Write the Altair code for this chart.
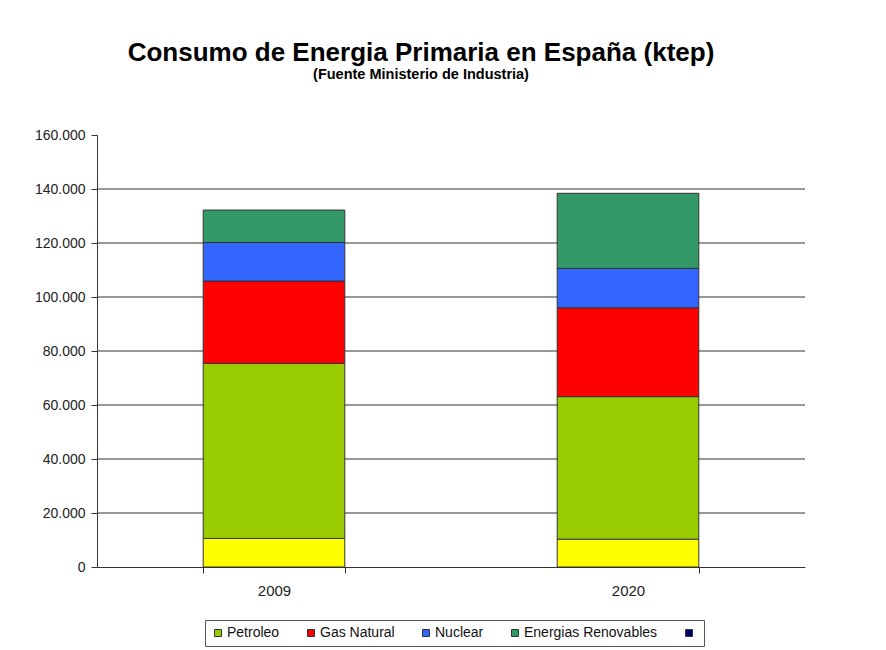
import altair as alt
import pandas as pd

years = ["2009", "2020"]
series = ["Carbón", "Petroleo", "Gas Natural", "Nuclear", "Energias Renovables", "Saldo"]
colors = ["#FFFF00", "#99CC00", "#FF0000", "#3366FF", "#339966", "#000066"]
carbon = [10600, 10300]
petroleo = [64800, 52800]
gas_natural = [30500, 32900]
nuclear = [14300, 14600]
renovables = [12000, 27800]
y_ticks = [0, 20000, 40000, 60000, 80000, 100000, 120000, 140000, 160000]
grid_values = [20000, 40000, 60000, 80000, 100000, 120000, 140000]

values = [carbon, petroleo, gas_natural, nuclear, renovables]
rows = []
for si, vals in enumerate(values):
    for yi, yr in enumerate(years):
        rows.append({"Año": yr, "Fuente": series[si], "ktep": vals[yi], "orden": si})
df = pd.DataFrame(rows)
grid_df = pd.DataFrame({"v": grid_values})

FONT = "Liberation Sans"

y_axis = alt.Axis(
    values=y_ticks, grid=False, labelFont=FONT, labelFontSize=14,
    labelColor="#222222", tickSize=6, tickColor="#333333", domainColor="#333333",
    labelPadding=6,
    labelExpr="replace(format(datum.value, ','), ',', '.')",
)

grid = alt.Chart(grid_df).mark_rule(color="#333333", strokeWidth=1).encode(
    y=alt.Y("v:Q", title=None, scale=alt.Scale(domain=[0, 160000], nice=False), axis=y_axis)
)

bars = alt.Chart(df).mark_bar(stroke="#333333", strokeWidth=1, opacity=1).encode(
    x=alt.X(
        "Año:N",
        title=None,
        sort=years,
        scale=alt.Scale(paddingInner=0.6, paddingOuter=0.3),
        axis=alt.Axis(
            labelAngle=0, labelFont=FONT, labelFontSize=15, labelColor="#222222",
            tickBand="extent", tickSize=6, tickColor="#333333", domainColor="#333333",
            labelPadding=10, grid=False,
        ),
    ),
    y=alt.Y(
        "ktep:Q",
        stack="zero",
        title=None,
        scale=alt.Scale(domain=[0, 160000], nice=False),
        axis=y_axis,
    ),
    color=alt.Color(
        "Fuente:N",
        scale=alt.Scale(domain=series, range=colors),
        legend=alt.Legend(
            title=None, orient="none", direction="horizontal",
            legendX=108, legendY=485,
            values=series[1:],
            labelExpr="datum.label == 'Saldo' ? '' : datum.label",
            labelFont=FONT, labelFontSize=14, labelColor="#111111",
            symbolType="square", symbolSize=49, symbolStrokeColor="#333333",
            symbolStrokeWidth=1, symbolOpacity=1,
            strokeColor="#555555", padding=6, columnPadding=24, labelOffset=2,
        ),
    ),
    order=alt.Order("orden:Q", sort="ascending"),
)

chart = alt.layer(grid, bars).properties(
    width=708,
    height=432,
    background="white",
    padding={"left": 26, "top": 31, "right": 60, "bottom": 5},
    title=alt.TitleParams(
        text="Consumo de Energia Primaria en España (ktep)",
        subtitle="(Fuente Ministerio de Industria)",
        font=FONT, fontSize=26, fontWeight="bold", color="#000000",
        subtitleFont=FONT, subtitleFontSize=14.5, subtitleFontWeight="bold",
        subtitleColor="#000000", subtitlePadding=2, anchor="middle", offset=47,
        dx=-30,
    ),
).configure_axis(grid=False).configure_view(stroke="transparent", strokeWidth=0)

chart.save("out.html", embed_options={"renderer": "svg", "actions": False})
